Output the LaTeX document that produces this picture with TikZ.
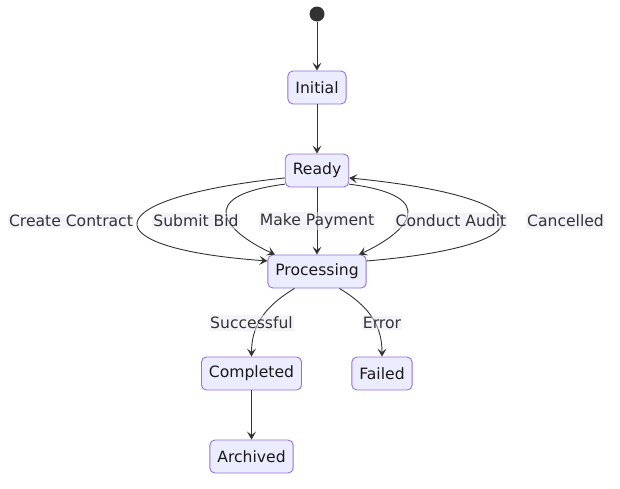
\documentclass[tikz,border=0pt]{standalone}
\usepackage{fontspec}
\setsansfont{DejaVu Sans}
\usepackage{tikz}
\usetikzlibrary{arrows.meta, positioning}
\definecolor{fillState}{HTML}{ECECFF}
\definecolor{borderState}{HTML}{9370DB}
\definecolor{lineGray}{HTML}{333333}
\definecolor{labelBg}{HTML}{E8E8F4}

\begin{document}
\begin{tikzpicture}[x=1pt, y=-1pt, font=\sffamily\fontsize{15.6}{18}\selectfont, >=Stealth,
        state/.style={draw=borderState, fill=fillState, rounded corners=5pt, line width=0.9pt,
            minimum height=33pt, inner xsep=7.5pt, text=black!90},
        tr/.style={-{Stealth[length=8pt, width=9pt, inset=3.5pt]}, lineGray, line width=0.9pt},
        lbl/.style={fill=labelBg, fill opacity=0.5, text opacity=1, text=lineGray,
            inner xsep=1pt, inner ysep=1.5pt}]
        \useasboundingbox (0,0) rectangle (620,488);
        \fill[lineGray] (317,14) circle (7.5) coordinate (st);
        \node[state] (ini) at (317,87.5)   {Initial};
        \node[state] (rdy) at (317,170.5)  {Ready};
        \node[state] (pr)  at (317,271.5)  {Processing};
        \node[state] (cmp) at (251.5,373.5) {Completed};
        \node[state] (fl)  at (382,373.5)  {Failed};
        \node[state] (arc) at (251.5,456.5) {Archived};
        \draw[tr] ([yshift=-7.5pt]st) -- (ini);
        \foreach \a/\b in {ini/rdy, rdy/pr, cmp/arc} \draw[tr] (\a) -- (\b);
        \draw[tr] (rdy.193) .. controls (95,198) and (88,248) .. (pr.168);
        \draw[tr] (rdy.203) .. controls (192,196) and (226,232) .. (pr.158);
        \draw[tr] (rdy.337) .. controls (442,196) and (408,232) .. (pr.22);
        \draw[tr] (pr.12) .. controls (548,246) and (552,198) .. (rdy.347);
        \draw[tr] (pr.217) .. controls (262,308) and (251.5,328) .. (cmp.north);
        \draw[tr] (pr.323) .. controls (372,308) and (382,328) .. (fl.north);
        % edge labels
        \node[lbl] (l1) at (71,221)    {Create Contract};
        \node[lbl] (l2) at (196,221)   {Submit Bid};
        \node[lbl] (l3) at (317,221)   {Make Payment};
        \node[lbl] (l4) at (451,221)   {Conduct Audit};
        \node[lbl] (l5) at (565.5,221) {Cancelled};
        \node[lbl] (l6) at (251.5,323) {Successful};
        \node[lbl] (l7) at (382,323)   {Error};
    \end{tikzpicture}
\end{document}
